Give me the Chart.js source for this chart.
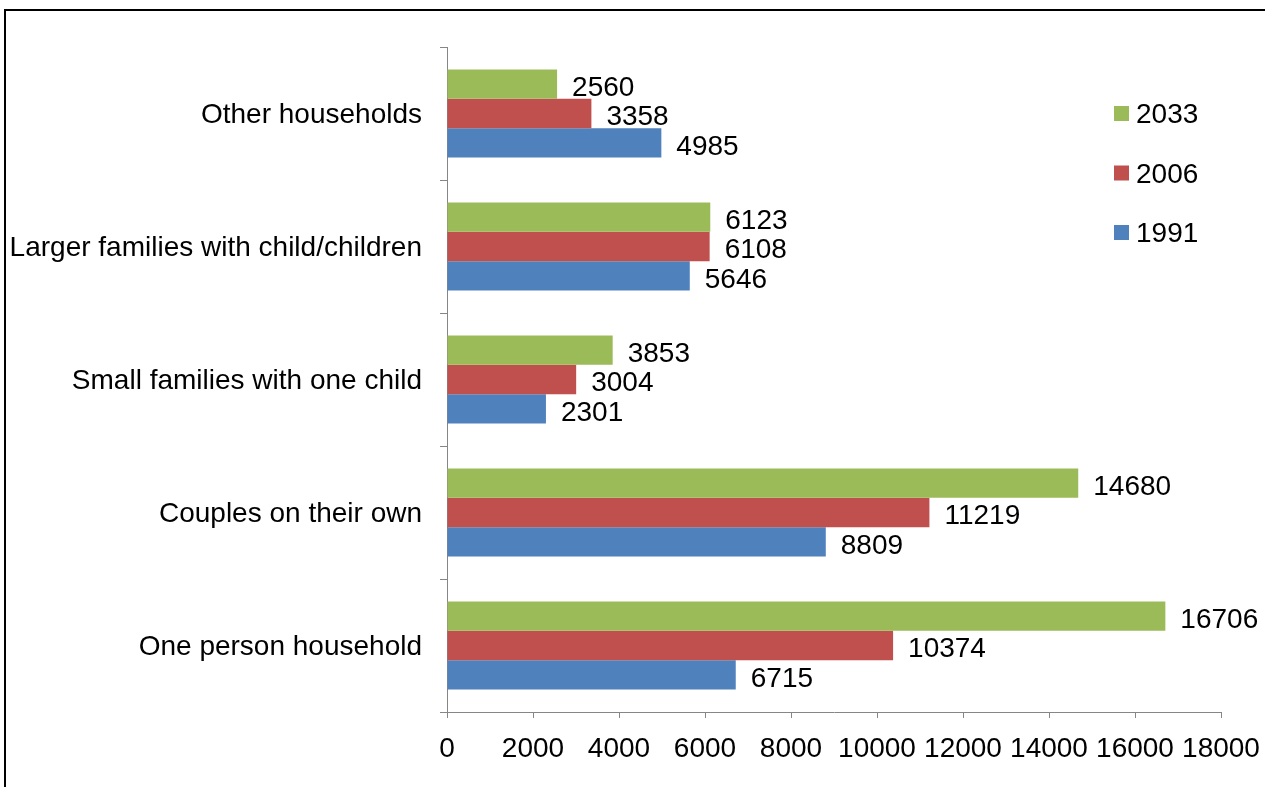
<!DOCTYPE html>
<html>
<head>
<meta charset="utf-8">
<script src="https://cdn.jsdelivr.net/npm/chart.js@4.4.1/dist/chart.umd.min.js"></script>
<style>
  html, body { margin: 0; padding: 0; background: #fff; }
  #wrap { position: relative; width: 1265px; height: 787px; overflow: hidden; background: #fff; }
  #frame { position: absolute; left: 4px; top: 9px; width: 1400px; height: 900px;
           border-left: 2px solid #000; border-top: 2px solid #000; pointer-events: none; }
  canvas { position: absolute; left: 0; top: 0; }
</style>
</head>
<body>
<div id="wrap">
  <canvas id="c" width="1265" height="787"></canvas>
  <div id="frame"></div>
</div>
<script>
const categories = [
  'Other households',
  'Larger families with child/children',
  'Small families with one child',
  'Couples on their own',
  'One person household'
];
const seriesNames = ['2033', '2006', '1991'];
const values2033 = [2560, 6123, 3853, 14680, 16706];
const values2006 = [3358, 6108, 3004, 11219, 10374];
const values1991 = [4985, 5646, 2301, 8809, 6715];
const xTicks = [0, 2000, 4000, 6000, 8000, 10000, 12000, 14000, 16000, 18000];
const colors = ['#9BBB59', '#C0504D', '#4F81BD'];

const FONT = "'Liberation Sans', Arial, Helvetica, sans-serif";

const dataLabels = {
  id: 'dataLabels',
  afterDatasetsDraw(chart) {
    const ctx = chart.ctx;
    ctx.save();
    ctx.font = '28px ' + FONT;
    ctx.fillStyle = '#000';
    ctx.textAlign = 'left';
    ctx.textBaseline = 'middle';
    chart.data.datasets.forEach((ds, di) => {
      const meta = chart.getDatasetMeta(di);
      meta.data.forEach((bar, i) => {
        ctx.fillText(String(ds.data[i]), bar.x + 15, bar.y + 4);
      });
    });
    ctx.restore();
  }
};

const customLegend = {
  id: 'customLegend',
  afterDraw(chart) {
    const ctx = chart.ctx;
    ctx.save();
    ctx.font = '28px ' + FONT;
    ctx.textAlign = 'left';
    ctx.textBaseline = 'middle';
    chart.data.datasets.forEach((ds, i) => {
      const cy = 113.5 + i * 59.5;
      ctx.fillStyle = ds.backgroundColor;
      ctx.fillRect(1114, cy - 7.5, 15, 15);
      ctx.fillStyle = '#000';
      ctx.fillText(ds.label, 1136, cy + 2);
    });
    ctx.restore();
  }
};

const datasets = [values2033, values2006, values1991].map((vals, i) => ({
  label: seriesNames[i],
  data: vals,
  backgroundColor: colors[i],
  borderWidth: 0,
  categoryPercentage: 0.662,
  barPercentage: 1.0
}));

new Chart(document.getElementById('c'), {
  type: 'bar',
  data: { labels: categories, datasets },
  plugins: [dataLabels, customLegend],
  options: {
    indexAxis: 'y',
    responsive: false,
    animation: false,
    devicePixelRatio: 1,
    layout: { padding: { left: 0, top: 47, right: 44, bottom: 0 } },
    plugins: { legend: { display: false }, tooltip: { enabled: false }, title: { display: false } },
    scales: {
      x: {
        min: 0, max: 18000,
        afterBuildTicks(scale) { scale.ticks = xTicks.map(v => ({ value: v })); },
        afterFit(scale) { scale.height = 75; scale.paddingLeft = 0; scale.paddingRight = 0; },
        ticks: {
          autoSkip: false, maxRotation: 0, minRotation: 0,
          padding: 14, color: '#000',
          font: { family: FONT, size: 28 },
          callback: (v) => String(v)
        },
        grid: { display: true, drawOnChartArea: false, drawTicks: true, tickLength: 6, color: '#868686', lineWidth: 1 },
        border: { display: true, color: '#868686', width: 1 }
      },
      y: {
        afterFit(scale) { scale.width = 447; scale.paddingTop = 0; scale.paddingBottom = 0; },
        ticks: {
          autoSkip: false, padding: 18, color: '#000', labelOffset: 2,
          font: { family: FONT, size: 28 }
        },
        grid: { display: true, offset: true, drawOnChartArea: false, drawTicks: true, tickLength: 7, color: '#868686', lineWidth: 1 },
        border: { display: true, color: '#868686', width: 1 }
      }
    }
  }
});
</script>
</body>
</html>
